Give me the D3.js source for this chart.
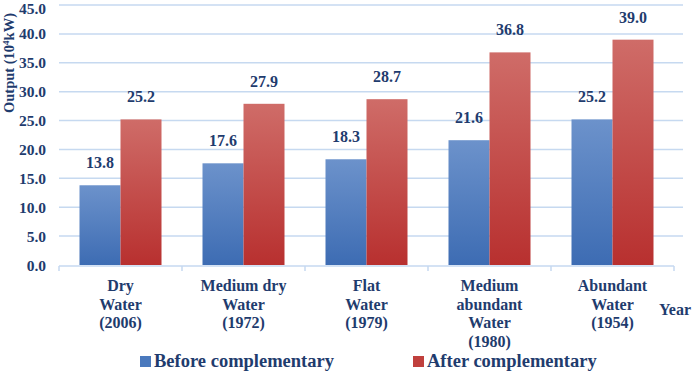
<!DOCTYPE html>
<html>
<head>
<meta charset="utf-8">
<script src="https://cdn.jsdelivr.net/npm/d3@7"></script>
<style>
body { margin: 0; background: #fff; }
svg text { font-family: 'Liberation Serif', 'DejaVu Serif', serif; font-weight: bold; fill: #1f3c6e; }
</style>
</head>
<body>
<div id="chart"></div>
<script>
const w = 692
const h = 372

const categories = [
    ['Dry', 'Water', '(2006)'],
    ['Medium dry', 'Water', '(1972)'],
    ['Flat', 'Water', '(1979)'],
    ['Medium', 'abundant', 'Water', '(1980)'],
    ['Abundant', 'Water', '(1954)']
]
const before = [13.8, 17.6, 18.3, 21.6, 25.2]
const after = [25.2, 27.9, 28.7, 36.8, 39.0]
const yTicks = [0, 5, 10, 15, 20, 25, 30, 35, 40, 45]
const seriesNames = ['Before complementary', 'After complementary']

const svg = d3.select('#chart')
    .append('svg')
    .attr('width', w)
    .attr('height', h)

const defs = svg.append('defs')
const grads = [['gBlue', '#6c92cb', '#3d6cb3'], ['gRed', '#cf6c68', '#b8302f']]
grads.forEach(g => {
    const lg = defs.append('linearGradient')
        .attr('id', g[0])
        .attr('x1', 0).attr('y1', 0).attr('x2', 0).attr('y2', 1)
    lg.append('stop').attr('offset', '0%').attr('stop-color', g[1])
    lg.append('stop').attr('offset', '100%').attr('stop-color', g[2])
})

const xScale = d3.scaleBand()
    .domain(d3.range(categories.length))
    .range([59, 674])

const yScale = d3.scaleLinear()
    .domain([0, 45])
    .range([265, 5])

// gridlines
svg.append('g')
    .selectAll('line')
    .data(yTicks.slice(1))
    .enter()
    .append('line')
    .attr('x1', 59)
    .attr('x2', 683)
    .attr('y1', d => yScale(d))
    .attr('y2', d => yScale(d))
    .attr('stroke', '#c6d9f0')
    .attr('stroke-width', 1.5)

// y tick labels
svg.append('g')
    .selectAll('text')
    .data(yTicks)
    .enter()
    .append('text')
    .attr('x', 46)
    .attr('y', d => Math.max(yScale(d) + 5.5, 14))
    .attr('text-anchor', 'end')
    .style('font-size', '15.5px')
    .text(d => d.toFixed(1))

// y axis title
const yt = svg.append('text')
    .attr('transform', 'translate(14, 63) rotate(-90)')
    .attr('text-anchor', 'middle')
    .style('font-size', '14.5px')
yt.append('tspan').text('Output (10')
yt.append('tspan').attr('dy', -5).style('font-size', '9px').text('4')
yt.append('tspan').attr('dy', 5).text('kW)')

// x axis
const xAxis = svg.append('g')
xAxis.append('line')
    .attr('x1', 59).attr('x2', 674)
    .attr('y1', 266).attr('y2', 266)
    .attr('stroke', '#c6d9f0').attr('stroke-width', 1.5)
xAxis.selectAll('.tick')
    .data(d3.range(categories.length + 1))
    .enter()
    .append('line')
    .attr('x1', d => 59 + d * xScale.bandwidth())
    .attr('x2', d => 59 + d * xScale.bandwidth())
    .attr('y1', 266).attr('y2', 271)
    .attr('stroke', '#c6d9f0').attr('stroke-width', 1.5)

const barW = 41
const series = [[before, 'url(#gBlue)', -barW], [after, 'url(#gRed)', 0]]

series.forEach(s => {
    svg.append('g')
        .selectAll('rect')
        .data(s[0])
        .enter()
        .append('rect')
        .attr('x', (d, i) => xScale(i) + xScale.bandwidth() / 2 + s[2])
        .attr('y', d => yScale(d))
        .attr('width', barW)
        .attr('height', d => yScale(0) - yScale(d))
        .attr('fill', s[1])

    svg.append('g')
        .selectAll('text')
        .data(s[0])
        .enter()
        .append('text')
        .attr('x', (d, i) => xScale(i) + xScale.bandwidth() / 2 + s[2] + barW / 2)
        .attr('y', d => yScale(d) - 17)
        .attr('text-anchor', 'middle')
        .style('font-size', '16px')
        .text(d => d.toFixed(1))
})

// category labels
categories.forEach((lines, i) => {
    const t = svg.append('text')
        .attr('text-anchor', 'middle')
        .style('font-size', '16px')
    lines.forEach((l, j) => {
        t.append('tspan')
            .attr('x', xScale(i) + xScale.bandwidth() / 2)
            .attr('y', 291 + j * 18.5)
            .text(l)
    })
})

svg.append('text')
    .attr('x', 691)
    .attr('y', 315)
    .attr('text-anchor', 'end')
    .style('font-size', '16px')
    .text('Year')

// legend
const legendX = [140, 413]
seriesNames.forEach((n, i) => {
    svg.append('rect')
        .attr('x', legendX[i])
        .attr('y', 356)
        .attr('width', 11)
        .attr('height', 11)
        .attr('fill', i === 0 ? '#4a79bd' : '#c0403d')
    svg.append('text')
        .attr('x', legendX[i] + 14)
        .attr('y', 367)
        .style('font-size', '18.5px')
        .text(n)
})
</script>
</body>
</html>
